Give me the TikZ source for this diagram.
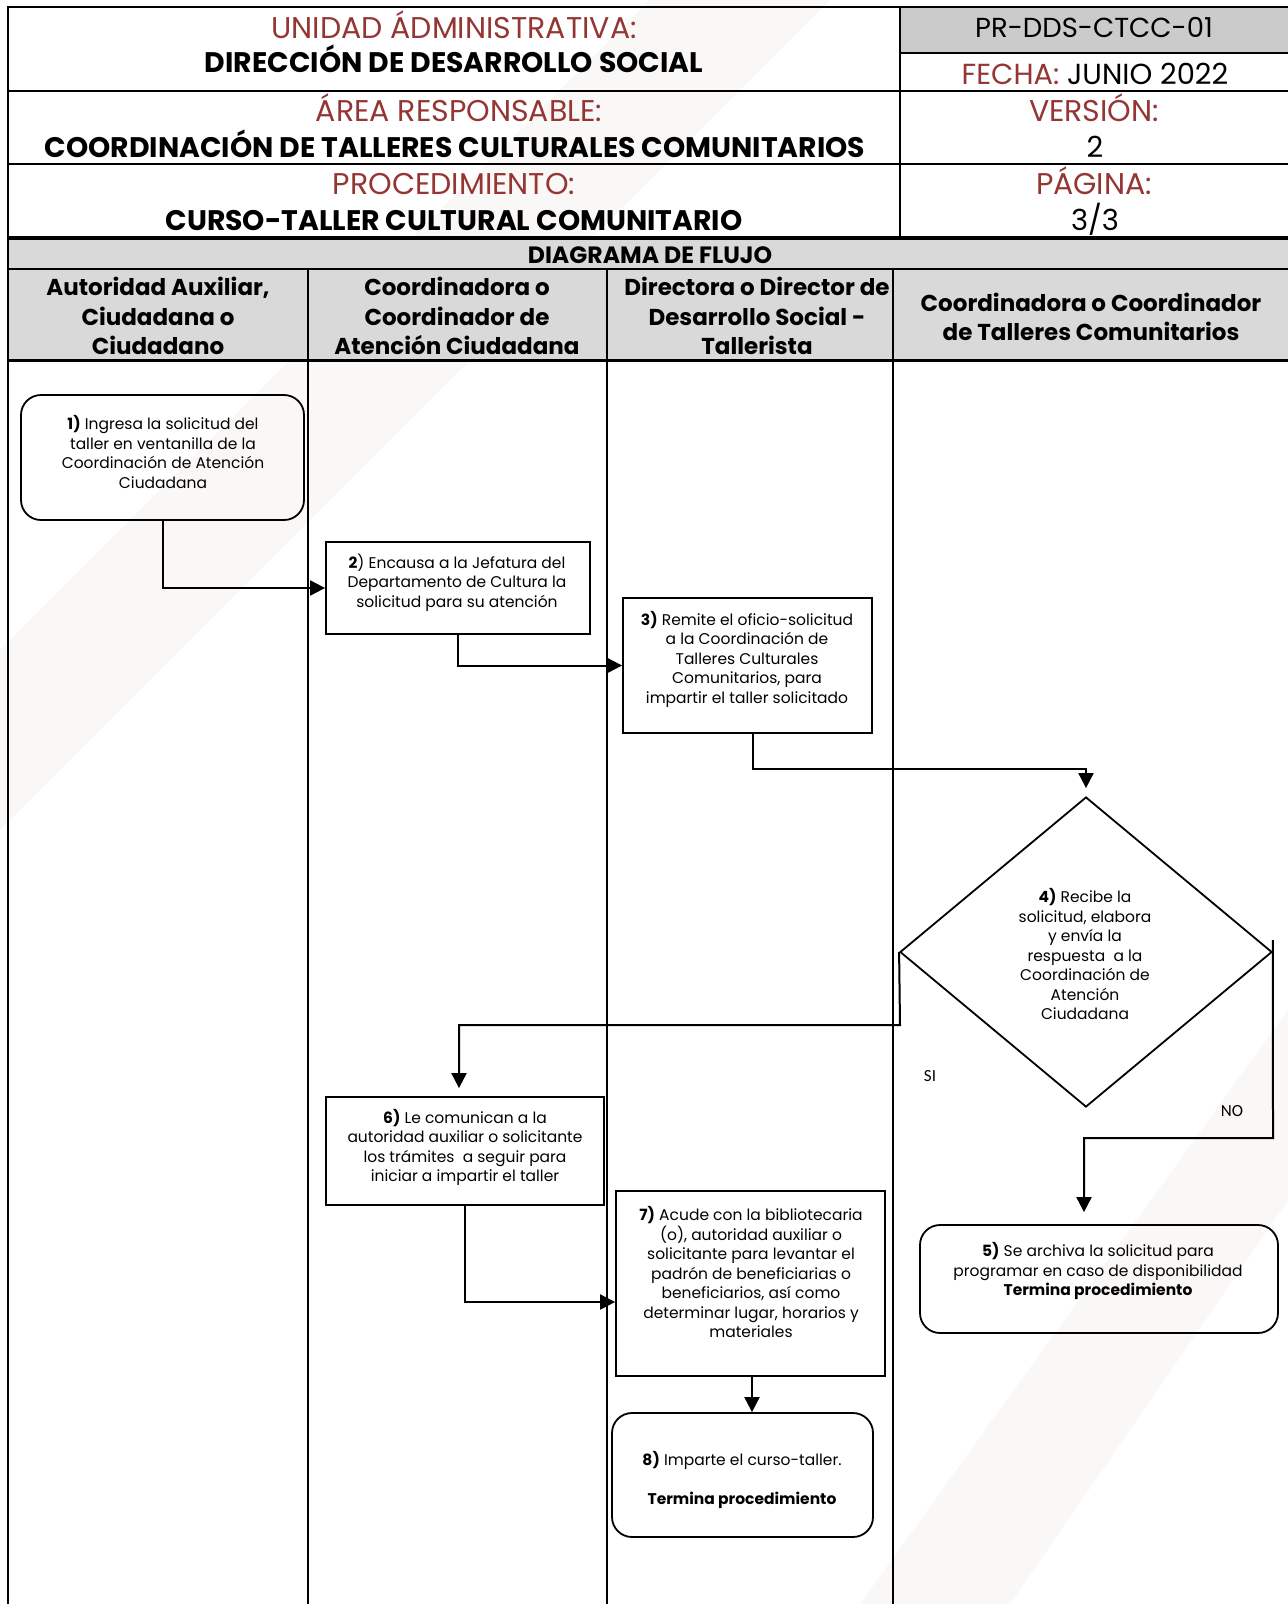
\documentclass[tikz,border=0pt]{standalone}
\usepackage{fontspec}
\setmainfont{Poppins}
\newfontfamily\calib{Carlito}
\usetikzlibrary{arrows.meta,shapes.geometric}
\definecolor{hdrred}{HTML}{943634}
\definecolor{bandgrey}{HTML}{D9D9D9}
\definecolor{cellgrey}{HTML}{CBCBCB}
\definecolor{wmark}{HTML}{FAF8F6}
\begin{document}
\begin{tikzpicture}[x=1pt,y=-1pt,
  lane/.style={line width=2pt},
  rule/.style={line width=2.5pt},
  boxshape/.style={draw,line width=1.8pt,inner sep=0pt},
  procbox/.style={boxshape,rectangle},
  termbox/.style={boxshape,rounded corners=20pt},
  txt/.style={align=center,inner sep=0pt,font=\fontsize{15.5}{19.5}\selectfont},
  flow/.style={line width=2pt,-{Triangle[length=15pt,width=15pt]}},
  redlbl/.style={inner sep=0pt,text=hdrred,font=\fontsize{30}{34}\selectfont,text height=21pt,text depth=0pt},
  bigb/.style={inner sep=0pt,font=\bfseries\fontsize{28.3}{32}\selectfont,text height=20pt,text depth=0pt},
  plainlbl/.style={inner sep=0pt,font=\fontsize{29}{34}\selectfont,text height=20.5pt,text depth=0pt},
  colhd/.style={inner sep=0pt,font=\bfseries\fontsize{23}{29.5}\selectfont,align=center},
  yesno/.style={inner sep=0pt,font=\calib\fontsize{17}{19}\selectfont},
]
\useasboundingbox (0,0) rectangle (1288,1604);
\fill[white] (0,0) rectangle (1288,1604);
% faint watermark
\fill[wmark] (650,0) -- (830,0) -- (0,830) -- (0,650) -- cycle;
\fill[wmark] (1288,1010) -- (1288,1200) -- (1010,1604) -- (860,1604) -- cycle;
% header fills
\fill[cellgrey] (900,7) rectangle (1288,53);
\fill[bandgrey] (8,238) rectangle (1288,360);
% header rules
\draw[rule] (8,7) -- (1288,7);
\draw[rule] (900,53) -- (1288,53);
\draw[rule] (8,91) -- (1288,91);
\draw[rule] (8,164) -- (1288,164);
\draw[line width=4pt] (8,238) -- (1288,238);
\draw[rule] (8,269) -- (1288,269);
\draw[line width=3pt] (8,360) -- (1288,360);
\draw[rule] (900,7) -- (900,238);
% lanes
\draw[lane] (8,6) -- (8,1604);
\draw[lane] (308,269) -- (308,1604);
\draw[lane] (607,269) -- (607,1604);
\draw[lane] (893,269) -- (893,1604);
% header texts
\node[redlbl] (hUnidad) at (454,28) {UNIDAD ÁDMINISTRATIVA:};
\node[bigb] (hDir) at (454,62) {DIRECCIÓN DE DESARROLLO SOCIAL};
\node[redlbl] (hArea) at (459,111) {ÁREA RESPONSABLE:};
\node[bigb] (hCoord) at (455,147) {COORDINACIÓN DE TALLERES CULTURALES COMUNITARIOS};
\node[redlbl] (hProc) at (454,184) {PROCEDIMIENTO:};
\node[bigb] (hCurso) at (454,220) {CURSO-TALLER CULTURAL COMUNITARIO};
\node[plainlbl,font=\fontsize{27.5}{32}\selectfont] (hCode) at (1094,27) {PR-DDS-CTCC-01};
\node[plainlbl] (hFecha) at (1095,74) {\textcolor{hdrred}{FECHA:} JUNIO 2022};
\node[redlbl] (hVer) at (1094,111) {VERSIÓN:};
\node[plainlbl] (hVerN) at (1095,147) {2};
\node[redlbl] (hPag) at (1094,184) {PÁGINA:};
\node[plainlbl] (hPagN) at (1095,220) {3/3};
\node[inner sep=0pt,font=\bfseries\fontsize{23.6}{26}\selectfont,text height=16.5pt,text depth=0pt] (hDiag) at (650,255) {DIAGRAMA DE FLUJO};
\node[colhd] (c1) at (158,316) {Autoridad Auxiliar,\\Ciudadana o\\Ciudadano};
\node[colhd] (c2) at (457,316) {Coordinadora o\\Coordinador de\\Atención Ciudadana};
\node[colhd] (c3) at (757,316) {Directora o Director de\\Desarrollo Social -\\Tallerista};
\node[colhd] (c4) at (1091,317) {Coordinadora o Coordinador\\de Talleres Comunitarios};
% boxes
\node[termbox,minimum width=283pt,minimum height=125pt] (n1) at (162.5,457.5) {};
\node[procbox,minimum width=264pt,minimum height=92pt] (n2) at (458,588) {};
\node[procbox,minimum width=249pt,minimum height=135pt] (n3) at (747.5,665.5) {};
\node[boxshape,diamond,minimum width=372pt,minimum height=310pt] (d4) at (1086,952) {};
\node[termbox,minimum width=358pt,minimum height=108pt] (n5) at (1099,1279) {};
\node[procbox,minimum width=278pt,minimum height=108pt] (n6) at (465,1151) {};
\node[procbox,minimum width=269pt,minimum height=185pt] (n7) at (750.5,1283.5) {};
\node[termbox,minimum width=261pt,minimum height=124pt] (n8) at (742.5,1475) {};
% box texts
\node[txt] (t1) at (163,452) {\textbf{1)} Ingresa la solicitud del\\taller en ventanilla de la\\Coordinación de Atención\\Ciudadana};
\node[txt] (t2) at (457,582.5) {\textbf{2}) Encausa a la Jefatura del\\Departamento de Cultura la\\solicitud para su atención};
\node[txt] (t3) at (747,659) {\textbf{3)} Remite el oficio-solicitud\\a la Coordinación de\\Talleres Culturales\\Comunitarios, para\\impartir el taller solicitado};
\node[txt] (t4) at (1085,954) {\textbf{4)} Recibe la\\solicitud, elabora\\y envía la\\respuesta\ \ a la\\Coordinación de\\Atención\\Ciudadana};
\node[txt] (t5) at (1098,1271) {\textbf{5)} Se archiva la solicitud para\\programar en caso de disponibilidad\\\textbf{Termina procedimiento}};
\node[txt] (t6) at (465,1147.5) {\textbf{6)} Le comunican a la\\autoridad auxiliar o solicitante\\los trámites\ \ a seguir para\\iniciar a impartir el taller};
\node[txt] (t7) at (751,1272) {\textbf{7)} Acude con la bibliotecaria\\(o), autoridad auxiliar o\\solicitante para levantar el\\padrón de beneficiarias o\\beneficiarios, así como\\determinar lugar, horarios y\\materiales};
\node[txt] (t8) at (742,1480) {\textbf{8)} Imparte el curso-taller.\\[19.5pt]\textbf{Termina procedimiento}};
% labels
\node[yesno] (lsi) at (930,1076) {SI};
\node[yesno] (lno) at (1232,1111) {NO};
% connectors
\coordinate (b34) at (1086,769);
\coordinate (bs1) at (900,1025);
\coordinate (bs2) at (459,1025);
\coordinate (bn1) at (1273,1138);
\coordinate (bn2) at (1084,1138);
\draw[flow] (n1.south) |- (n2.west);
\draw[flow] (n2.south) |- (n3.west);
\draw[flow,shorten >=8pt] ([xshift=5pt]n3.south) |- (b34) -- (d4.north);
\draw[flow,shorten >=8pt] (d4.west) -- (bs1) -- (bs2) -- (bs2 |- n6.north);
\draw[flow,shorten >=12pt] ([yshift=12pt]d4.east) -- (bn1) -- (bn2) -- (bn2 |- n5.north);
\draw[flow] (n6.south) |- ([yshift=-18.5pt]n7.west);
\draw[flow] ([xshift=1.5pt]n7.south) -- ([xshift=1.5pt]n7.south |- n8.north);
\end{tikzpicture}
\end{document}
